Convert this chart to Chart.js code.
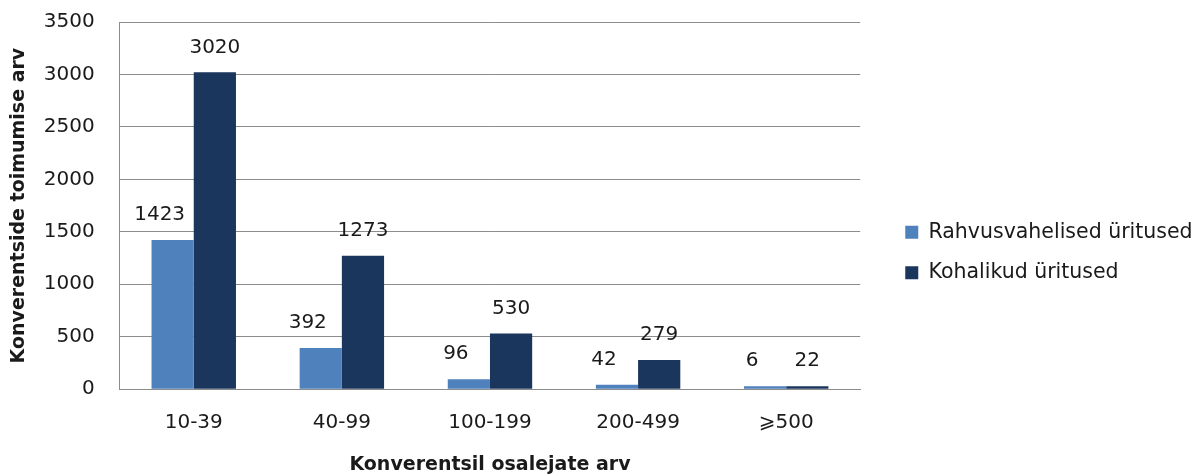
<!DOCTYPE html>
<html>
<head>
<meta charset="utf-8">
<script src="https://cdn.jsdelivr.net/npm/chart.js@4.4.0/dist/chart.umd.min.js"></script>
<style>
  html, body { margin: 0; padding: 0; background: #fff; }
</style>
</head>
<body>
<canvas id="chart" width="1200" height="475"></canvas>
<script>
const categories = ['10-39', '40-99', '100-199', '200-499', '⩾500'];
const internationalEvents = [1423, 392, 96, 42, 6];
const localEvents = [3020, 1273, 530, 279, 22];
const yTicks = [0, 500, 1000, 1500, 2000, 2500, 3000, 3500];

const gridColor = '#8c8c8c';
const textColor = '#1a1a1a';

// value labels above each bar
const barLabels = {
  id: 'barLabels',
  afterDatasetsDraw(chart) {
    const ctx = chart.ctx;
    ctx.save();
    ctx.font = '20px "DejaVu Sans"';
    ctx.fillStyle = textColor;
    ctx.textAlign = 'center';
    ctx.textBaseline = 'middle';
    chart.data.datasets.forEach((ds, i) => {
      chart.getDatasetMeta(i).data.forEach((bar, j) => {
        ctx.fillText(ds.data[j], bar.x + (ds.labelShift || 0), bar.y - 25);
      });
    });
    ctx.restore();
  }
};

// nudge the legend away from the plot area (legend clips to its box, so widen it to the edge)
const legendPlace = {
  id: 'legendPlace',
  afterLayout(chart) {
    const lg = chart.legend;
    lg.left += 25;
    lg.right = chart.width;
    lg.top += 4;
    lg.bottom += 4;
  }
};

Chart.defaults.font.family = '"DejaVu Sans"';
Chart.defaults.color = textColor;

new Chart(document.getElementById('chart').getContext('2d'), {
  type: 'bar',
  data: {
    labels: categories,
    datasets: [
      {
        label: 'Rahvusvahelised üritused',
        data: internationalEvents,
        backgroundColor: '#4f81bd',
        minBarLength: 3,
        labelShift: -13
      },
      {
        label: 'Kohalikud üritused',
        data: localEvents,
        backgroundColor: '#1a365d',
        minBarLength: 3
      }
    ]
  },
  options: {
    responsive: false,
    animation: false,
    categoryPercentage: 0.57,
    barPercentage: 1,
    layout: { padding: { top: 22, right: 53, left: 0, bottom: 0 } },
    plugins: {
      tooltip: { enabled: false },
      legend: {
        position: 'right',
        labels: {
          boxWidth: 13,
          boxHeight: 13,
          padding: 20,
          font: { size: 20.5 },
          color: textColor
        }
      }
    },
    scales: {
      x: {
        grid: { display: false, drawTicks: false },
        border: { display: true, color: gridColor, width: 1 },
        ticks: { padding: 22, font: { size: 20 }, color: textColor },
        title: {
          display: true,
          text: 'Konverentsil osalejate arv',
          font: { size: 19, weight: 'bold' },
          color: textColor,
          padding: { top: -4, bottom: -1 }
        }
      },
      y: {
        min: 0,
        max: yTicks[yTicks.length - 1],
        afterBuildTicks: axis => { axis.ticks = yTicks.map(v => ({ value: v })); },
        afterFit: axis => { axis.paddingTop = 0; axis.paddingBottom = 0; },
        grid: { color: gridColor, drawTicks: false },
        border: { display: true, color: gridColor, width: 1 },
        ticks: { padding: 25, font: { size: 20 }, color: textColor, callback: v => String(v) },
        title: {
          display: true,
          text: 'Konverentside toimumise arv',
          font: { size: 19, weight: 'bold' },
          color: textColor,
          padding: { top: 8, bottom: -12 }
        }
      }
    }
  },
  plugins: [barLabels, legendPlace]
});
</script>
</body>
</html>
